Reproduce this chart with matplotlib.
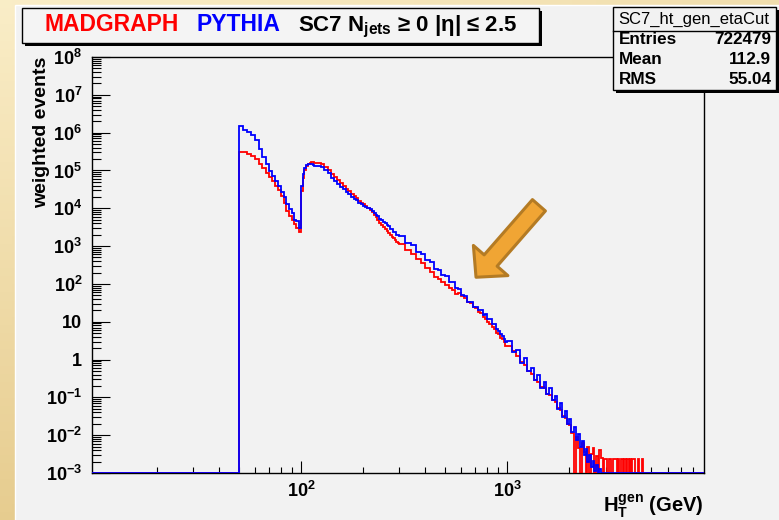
import numpy as np
import matplotlib
matplotlib.use("Agg")
import matplotlib.pyplot as plt
from matplotlib.patches import Rectangle
from matplotlib.ticker import FixedLocator, FuncFormatter, LogLocator, NullFormatter

plt.rcParams["font.family"] = ["Liberation Sans", "DejaVu Sans"]
plt.rcParams["font.weight"] = "bold"
plt.rcParams["mathtext.fontset"] = "custom"
plt.rcParams["mathtext.rm"] = "Liberation Sans:bold"
plt.rcParams["mathtext.bf"] = "Liberation Sans:bold"
plt.rcParams["mathtext.it"] = "Liberation Sans:bold"

XMIN, XMAX = 9.7, 9000
YMIN, YMAX = 1e-3, 1e8

# log10(weighted events) per HT bin; None = empty bin
# 50-100 GeV, 2.5 GeV bins
PYTHIA_50_100 = [6.18, 6.08, 6.01, 5.93, 5.80, 5.56, 5.36, 5.18, 4.98, 4.85,
                 4.72, 4.60, 4.44, 4.30, 4.10, 3.98, 3.88, 3.70, 3.66, 3.47]
MADGRAPH_50_100 = [5.50, 5.48, 5.44, 5.39, 5.31, 5.18, 5.06, 4.94, 4.82, 4.72,
                   4.60, 4.47, 4.33, 4.13, 3.93, 3.80, 3.70, 3.59, 3.47, 3.36]
# 100-120 GeV, 2 GeV bins
PYTHIA_100_120 = [4.58, 4.90, 5.06, 5.15, 5.18, 5.17, 5.16, 5.15, 5.13, 5.11]
MADGRAPH_100_120 = [4.45, 4.80, 5.00, 5.12, 5.18, 5.21, 5.22, 5.22, 5.21, 5.20]
# 120-300 GeV, 5 GeV bins
PYTHIA_120_300 = [5.12, 5.09, 5.00, 4.92, 4.81, 4.71, 4.64, 4.57, 4.50, 4.43,
                  4.37, 4.31, 4.24, 4.21, 4.15, 4.12, 4.07, 4.04, 4.00, 3.97,
                  3.92, 3.88, 3.82, 3.79, 3.72, 3.70, 3.63, 3.61, 3.55, 3.53,
                  3.46, 3.44, 3.38, 3.36, 3.30, 3.29]
MADGRAPH_120_300 = [5.20, 5.16, 5.08, 5.00, 4.90, 4.82, 4.74, 4.66, 4.59, 4.52,
                    4.45, 4.38, 4.32, 4.26, 4.20, 4.15, 4.10, 4.05, 4.00, 3.95,
                    3.89, 3.83, 3.76, 3.69, 3.61, 3.55, 3.50, 3.46, 3.40, 3.35,
                    3.30, 3.25, 3.21, 3.16, 3.12, 3.07]
# 300-1000 GeV, 20 GeV bins
PYTHIA_300_1000 = [3.26, 3.09, 3.02, 2.85, 2.79, 2.63, 2.57, 2.40, 2.37, 2.23,
                   2.20, 2.06, 2.05, 1.88, 1.86, 1.70, 1.69, 1.53, 1.53, 1.39,
                   1.40, 1.32, 1.31, 1.19, 1.20, 1.08, 1.06, 0.95, 0.94, 0.80,
                   0.75, 0.67, 0.62, 0.55, 0.46]
MADGRAPH_300_1000 = [3.05, 2.90, 2.79, 2.65, 2.55, 2.41, 2.31, 2.18, 2.13, 2.04,
                     1.98, 1.89, 1.84, 1.74, 1.77, 1.68, 1.63, 1.53, 1.49, 1.40,
                     1.35, 1.26, 1.22, 1.12, 1.07, 0.98, 0.94, 0.85, 0.80, 0.71,
                     0.67, 0.58, 0.54, 0.47, 0.37]
# tail, 50 GeV bins from 1000 GeV (Pythia to 2900, MadGraph to 4700)
PYTHIA_TAIL = [0.50, 0.20, 0.24, -0.10, 0.04, -0.30, -0.22, -0.54, -0.42, -0.75,
               -0.60, -0.90, -0.76, -1.06, -0.96, -1.30, -1.16, -1.52, -1.36, -1.70,
               -1.56, -1.92, -1.78, -2.12, -1.98, -2.32, -2.16, -2.52, -2.36, -2.70,
               -2.52, -2.85, -2.68, -2.96, -2.80, None, -2.90, None]
MADGRAPH_TAIL = [0.36, 0.22, 0.09, -0.07, -0.15, -0.30, -0.38, -0.54, -0.60, -0.72,
                 -0.76, -0.90, -0.93, -1.06, -1.12, -1.28, -1.33, -1.50, -1.55, -1.70,
                 -1.74, -1.95, None, -2.05, -2.35, None, -2.20, -2.45, None, -2.30,
                 None, -2.50, -2.35, None, -2.55, None, -2.40, -2.60, None, -2.62,
                 -2.62, None, -2.62, -2.62, None, -2.62, -2.62, -2.62, None, -2.62,
                 None, -2.62, -2.62, None, -2.62, None, -2.62, -2.62, None, -2.62,
                 None, -2.62, -2.62, None, None, None, -2.62, None, None, None,
                 -2.62, None, None, None]

STATS_NAME = "SC7_ht_gen_etaCut"
STATS_ROWS = [("Entries", "722479"), ("Mean", "112.9"), ("RMS", "55.04")]


def bin_edges(tail_stop):
    return np.concatenate([[XMIN], np.arange(50, 100, 2.5), np.arange(100, 120, 2),
                           np.arange(120, 300, 5), np.arange(300, 1000, 20),
                           np.arange(1000, tail_stop + 1, 50), [XMAX]])


def to_counts(logs):
    # empty bins are drawn on the bottom of the frame, like ROOT does
    return np.array([YMIN if v is None else 10.0 ** v for v in [None] + logs + [None]])


def log_label(v, pos):
    e = int(round(np.log10(v)))
    if e == 0:
        return "1"
    if e == 1:
        return "10"
    return r"$\mathbf{10^{%d}}$" % e


fig = plt.figure(figsize=(7.79, 5.2), dpi=100)
W, H = 779.0, 520.0

# golden slide background + grey canvas
bg = fig.add_axes([0, 0, 1, 1], zorder=-10)
bg.axis("off")
gy, gx = np.mgrid[0:1:64j, 0:1:64j]
t = np.clip(0.75 * gy + 0.35 * gx, 0, 1)
c0 = np.array([0.98, 0.93, 0.78])
c1 = np.array([0.88, 0.76, 0.49])
bg.imshow(c0 + t[..., None] * (c1 - c0), extent=[0, 1, 0, 1], aspect="auto", origin="upper")
bg.add_patch(Rectangle((15 / W, -0.01), 1, 1 - 5 / H + 0.01,
                       facecolor="#f2f2f2", edgecolor="white", lw=1.0))
bg.set_xlim(0, 1)
bg.set_ylim(0, 1)

ax = fig.add_axes([92 / W, 47 / H, 612 / W, 416 / H])
ax.set_facecolor("#f2f2f2")
ax.set_xscale("log")
ax.set_yscale("log")

madgraph = (MADGRAPH_50_100 + MADGRAPH_100_120 + MADGRAPH_120_300
            + MADGRAPH_300_1000 + MADGRAPH_TAIL)
pythia = (PYTHIA_50_100 + PYTHIA_100_120 + PYTHIA_120_300
          + PYTHIA_300_1000 + PYTHIA_TAIL)
ax.stairs(to_counts(madgraph), bin_edges(4700), color="#ff0000", lw=1.3,
          baseline=None, zorder=3)
ax.stairs(to_counts(pythia), bin_edges(2900), color="#0000ff", lw=1.3,
          baseline=None, zorder=4)

ax.set_xlim(XMIN, XMAX)
ax.set_ylim(YMIN, YMAX)

ax.xaxis.set_major_locator(FixedLocator([100, 1000]))
ax.xaxis.set_minor_locator(FixedLocator(
    [m * 10 ** d for d in (1, 2, 3) for m in range(2, 10) if m * 10 ** d < XMAX]))
ax.yaxis.set_major_locator(LogLocator(base=10, numticks=20))
ax.yaxis.set_minor_locator(LogLocator(base=10, subs=np.arange(2, 10), numticks=20))
ax.xaxis.set_major_formatter(FuncFormatter(log_label))
ax.yaxis.set_major_formatter(FuncFormatter(log_label))
ax.xaxis.set_minor_formatter(NullFormatter())
ax.yaxis.set_minor_formatter(NullFormatter())

ax.tick_params(axis="y", which="major", direction="in", length=13, width=0.8, pad=7, labelsize=13)
ax.tick_params(axis="y", which="minor", direction="in", length=6.5, width=0.8)
ax.tick_params(axis="x", which="major", direction="in", length=9, width=0.8, pad=6, labelsize=13)
ax.tick_params(axis="x", which="minor", direction="in", length=4.5, width=0.8)
for s in ax.spines.values():
    s.set_linewidth(1.0)

ax.set_ylabel("weighted events", fontsize=14, fontweight="bold", loc="top")
ax.yaxis.set_label_coords(-0.068, 1.0)
ax.set_xlabel(r"$\mathbf{H_{T}^{gen}}$ (GeV)", fontsize=14.5, fontweight="bold", loc="right")
ax.xaxis.set_label_coords(1.0, -0.046)

# pointer arrow
ax.annotate("", xy=(706, 150), xytext=(1425, 1.2e4),
            arrowprops=dict(arrowstyle="simple,head_length=0.8,head_width=1.65,tail_width=0.62",
                            mutation_scale=20, fc="#f0a534", ec="#b47b24", lw=2.2,
                            shrinkA=0, shrinkB=0), zorder=6)

# title box with shadow
fig.patches.append(Rectangle((25 / W, 1 - 46 / H), 517 / W, 35 / H, transform=fig.transFigure,
                             facecolor="black", edgecolor="none", zorder=5))
fig.patches.append(Rectangle((22 / W, 1 - 43 / H), 517 / W, 35 / H, transform=fig.transFigure,
                             facecolor="#f4f4f4", edgecolor="black", lw=1.0, zorder=6))
ty = 1 - 31 / H
fig.text(44 / W, ty, "MADGRAPH", color="#ff0000", fontsize=16.5, fontweight="bold", zorder=7)
fig.text(196 / W, ty, "PYTHIA", color="#0000ff", fontsize=16.5, fontweight="bold", zorder=7)
fig.text(298 / W, ty, r"SC7 N$_{\mathrm{jets}}$ ≥ 0 |η| ≤ 2.5", color="black", fontsize=16,
         fontweight="bold", zorder=7)

# stats box with shadow
fig.patches.append(Rectangle((616 / W, 1 - 93 / H), 163 / W, 83 / H, transform=fig.transFigure,
                             facecolor="black", edgecolor="none", zorder=5))
fig.patches.append(Rectangle((613 / W, 1 - 90 / H), 163 / W, 83 / H, transform=fig.transFigure,
                             facecolor="#f2f2f2", edgecolor="black", lw=1.0, zorder=6))
fig.add_artist(plt.Line2D([613 / W, 776 / W], [1 - 31 / H, 1 - 31 / H], transform=fig.transFigure,
                          color="black", lw=1.0, zorder=7))
fig.text(694 / W, 1 - 19 / H, STATS_NAME, ha="center", va="center", fontsize=12,
         fontweight="normal", zorder=7)
for i, (name, val) in enumerate(STATS_ROWS):
    yy = 1 - (40 + 19.5 * i) / H
    fig.text(619 / W, yy, name, ha="left", va="center", fontsize=12.3, fontweight="bold", zorder=7)
    fig.text(771 / W, yy, val, ha="right", va="center", fontsize=12.3, fontweight="bold", zorder=7)

fig.savefig("out.png", dpi=100)
